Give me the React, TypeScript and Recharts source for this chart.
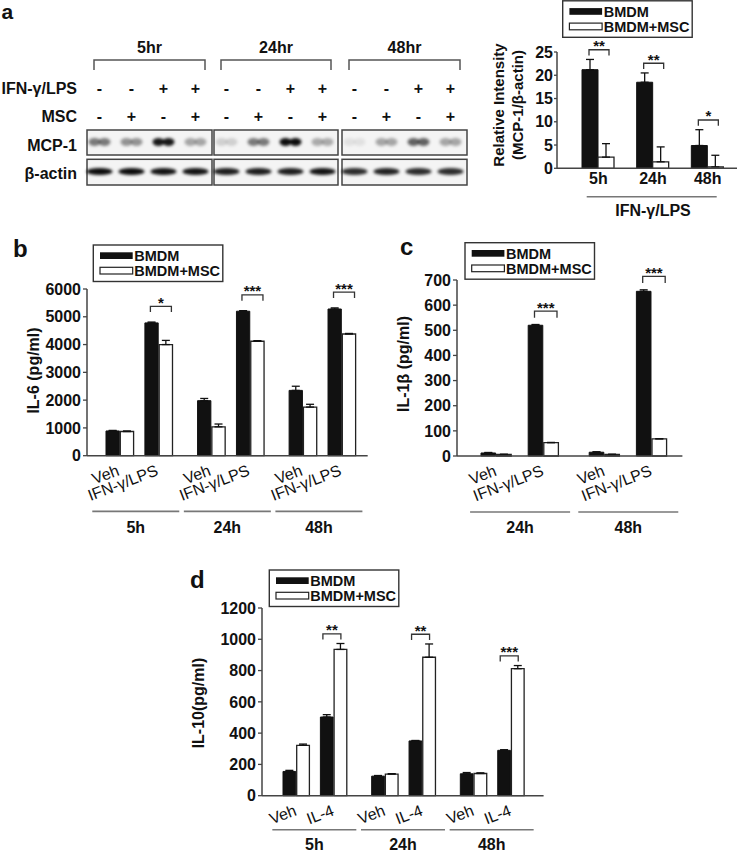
import React from "react";
import { BarChart, Bar, XAxis, YAxis, ErrorBar, LabelList } from "recharts";

const FONT = "'Liberation Sans', Arial, Helvetica, sans-serif";
const seriesNames = ["BMDM", "BMDM+MSC"];

// panel a - blot lanes
const blotTimes = ["5hr", "24hr", "48hr"];
const ifnSigns = ["-", "-", "+", "+"];
const mscSigns = ["-", "+", "-", "+"];
const mcpBand = [
  [0.5, 0.4, 0.9, 0.32],
  [0.15, 0.5, 0.95, 0.3],
  [0.08, 0.32, 0.6, 0.32],
];
const actinBand = [
  [0.95, 0.95, 0.92, 0.92],
  [0.88, 0.88, 0.88, 0.92],
  [0.82, 0.86, 0.82, 0.82],
];

// panel a - densitometry
const mcpTimes = ["5h", "24h", "48h"];
const mcpBMDM = [21.2, 18.5, 4.9];
const mcpBMDMErr = [2.2, 2.0, 3.4];
const mcpMSC = [2.4, 1.4, 0.3];
const mcpMSCErr = [2.9, 3.2, 2.5];
const mcpSig = ["**", "**", "*"];
const mcpTicks = [0, 5, 10, 15, 20, 25];

// panel b - IL-6
const il6Times = ["5h", "24h", "48h"];
const il6VehBMDM = [890, 1980, 2350];
const il6VehBMDMErr = [20, 80, 150];
const il6VehMSC = [870, 1040, 1750];
const il6VehMSCErr = [20, 100, 100];
const il6IfnBMDM = [4780, 5200, 5280];
const il6IfnBMDMErr = [30, 20, 40];
const il6IfnMSC = [4000, 4120, 4380];
const il6IfnMSCErr = [150, 20, 20];
const il6Sig = ["*", "***", "***"];
const il6Ticks = [0, 1000, 2000, 3000, 4000, 5000, 6000];

// panel c - IL-1b
const il1Times = ["24h", "48h"];
const il1VehBMDM = [12, 15];
const il1VehBMDMErr = [2, 2];
const il1VehMSC = [6, 6];
const il1VehMSCErr = [1, 1];
const il1IfnBMDM = [520, 655];
const il1IfnBMDMErr = [3, 6];
const il1IfnMSC = [53, 68];
const il1IfnMSCErr = [1, 1];
const il1Sig = ["***", "***"];
const il1Ticks = [0, 100, 200, 300, 400, 500, 600, 700];

// panel d - IL-10
const il10Times = ["5h", "24h", "48h"];
const il10VehBMDM = [155, 125, 140];
const il10VehBMDMErr = [7, 4, 8];
const il10VehMSC = [322, 138, 142];
const il10VehMSCErr = [8, 3, 4];
const il10Il4BMDM = [503, 350, 290];
const il10Il4BMDMErr = [15, 3, 4];
const il10Il4MSC = [935, 885, 812];
const il10Il4MSCErr = [38, 85, 20];
const il10Sig = ["**", "**", "***"];
const il10Ticks = [0, 200, 400, 600, 800, 1000, 1200];

const GAP = 1;

const makeBracket = (o: any) => (props: any) => {
  const vb = props.viewBox && props.viewBox.width !== undefined ? props.viewBox : props;
  const { x, y, height } = vb;
  const i = props.index ?? o.black.indexOf(props.value);
  const v = o.black[i];
  if (!v || !height) return null;
  const k = height / v;
  const base = y + height;
  const top = Math.max(o.black[i] + o.blackErr[i], o.white[i] + o.whiteErr[i]);
  const yb = base - top * k - o.gap;
  const yt = yb - o.h;
  const x1 = x + o.dx;
  const x2 = x1 + o.w;
  return (
    <g>
      <path d={`M${x1},${yb} V${yt} H${x2} V${yb}`} fill="none" stroke="#333" strokeWidth={1.3} />
      <text x={(x1 + x2) / 2} y={yt + 1.5} textAnchor="middle" fontSize={15} fontWeight={700} fontFamily={FONT} fill="#111">
        {o.sig[i]}
      </text>
    </g>
  );
};

const GroupTick = (props: any) => {
  const { x, y, payload, cfg } = props;
  const G = 4 * cfg.barW + cfg.spacer + 4 * GAP;
  const off = G / 2 - (2 * cfg.barW + GAP) / 2;
  const vx = x - off + 1;
  const tx = x + off + 1;
  const ly = y + 19;
  const ux = x + cfg.uOff;
  return (
    <g fontFamily={FONT} fill="#111">
      <g transform={`translate(${vx},${ly}) rotate(-21)`}>
        <text x={0} y={0} textAnchor="end" fontSize={16}>Veh</text>
      </g>
      <g transform={`translate(${tx},${ly}) rotate(-21)`}>
        <text x={0} y={0} textAnchor="end" fontSize={16}>{cfg.trtLabel}</text>
      </g>
      <line x1={ux - cfg.uW / 2} x2={ux + cfg.uW / 2} y1={y + cfg.uY} y2={y + cfg.uY} stroke="#777" strokeWidth={1.6} />
      <text x={ux} y={y + cfg.lY} textAnchor="middle" fontSize={16} fontWeight={700}>{payload.value}</text>
    </g>
  );
};

const place = (L: number, R: number, T: number, B: number, xh: number, mt = 20) => ({
  left: L - 60,
  top: T - mt,
  width: R - (L - 60) + 2,
  height: mt + (B - T) + xh,
  margin: { top: mt, right: 2, left: 0, bottom: 0 },
});

const yTick = { fill: "#111", fontSize: 16, fontWeight: 700, fontFamily: FONT };
const axisLine = { stroke: "#444", strokeWidth: 1.5 };

const GroupPanel = ({ cfg }: { cfg: any }) => {
  const p = place(cfg.L, cfg.R, cfg.T, cfg.B, cfg.xh);
  const rows = cfg.times.map((t: string, i: number) => ({
    t,
    vb: cfg.vehB[i], vbe: [0, cfg.vehBErr[i]],
    vw: cfg.vehW[i], vwe: [0, cfg.vehWErr[i]],
    sp: 0,
    ib: cfg.trtB[i], ibe: [0, cfg.trtBErr[i]],
    iw: cfg.trtW[i], iwe: [0, cfg.trtWErr[i]],
  }));
  const bracket = makeBracket({
    black: cfg.trtB, blackErr: cfg.trtBErr, white: cfg.trtW, whiteErr: cfg.trtWErr,
    sig: cfg.sig, gap: cfg.bGap, h: cfg.bH, dx: cfg.bDx, w: cfg.bW,
  });
  const eb = { width: 4, stroke: "#111", strokeWidth: 1.3, direction: "y" as const, isAnimationActive: false };
  return (
    <div style={{ position: "absolute", left: p.left, top: p.top }}>
      <BarChart width={p.width} height={p.height} data={rows} margin={p.margin} barGap={GAP}>
        <XAxis dataKey="t" padding={{ left: cfg.padL, right: cfg.padR }} axisLine={axisLine} tickLine={false}
          tickSize={0} tickMargin={0} height={cfg.xh} interval={0} tick={(tp: any) => <GroupTick {...tp} cfg={cfg} />} />
        <YAxis type="number" domain={[0, cfg.max]} ticks={cfg.ticks} interval={0} width={60} axisLine={axisLine}
          tickLine={{ stroke: "#444", strokeWidth: 1.3 }} tickSize={4} tickMargin={2} tick={yTick} />
        <Bar dataKey="vb" barSize={cfg.barW} fill="#111" stroke="#111" isAnimationActive={false}>
          <ErrorBar dataKey="vbe" {...eb} />
        </Bar>
        <Bar dataKey="vw" barSize={cfg.barW} fill="#fff" stroke="#222" strokeWidth={1.3} isAnimationActive={false}>
          <ErrorBar dataKey="vwe" {...eb} />
        </Bar>
        <Bar dataKey="sp" barSize={cfg.spacer} fill="none" isAnimationActive={false} />
        <Bar dataKey="ib" barSize={cfg.barW} fill="#111" stroke="#111" isAnimationActive={false}>
          <ErrorBar dataKey="ibe" {...eb} />
          <LabelList dataKey="ib" content={bracket} />
        </Bar>
        <Bar dataKey="iw" barSize={cfg.barW} fill="#fff" stroke="#222" strokeWidth={1.3} isAnimationActive={false}>
          <ErrorBar dataKey="iwe" {...eb} />
        </Bar>
      </BarChart>
    </div>
  );
};

const PanelA = () => {
  const p = place(556.7, 736.7, 51.7, 168, 50);
  const rows = mcpTimes.map((t, i) => ({
    t, b: mcpBMDM[i], be: [0, mcpBMDMErr[i]], w: mcpMSC[i], we: [0, mcpMSCErr[i]],
  }));
  const bracket = makeBracket({
    black: mcpBMDM, blackErr: mcpBMDMErr, white: mcpMSC, whiteErr: mcpMSCErr,
    sig: mcpSig, gap: 4, h: 5.7, dx: 7, w: 20,
  });
  const eb = { width: 4, stroke: "#111", strokeWidth: 1.3, direction: "y" as const, isAnimationActive: false };
  return (
    <div style={{ position: "absolute", left: p.left, top: p.top }}>
      <BarChart width={p.width} height={p.height} data={rows} margin={p.margin} barGap={0}>
        <XAxis dataKey="t" padding={{ left: 14, right: 2 }} axisLine={axisLine} tickLine={false}
          tickSize={0} tickMargin={4} height={50} interval={0} tick={yTick} />
        <YAxis type="number" domain={[0, 25]} ticks={mcpTicks} interval={0} width={60} axisLine={axisLine}
          tickLine={{ stroke: "#444", strokeWidth: 1.3 }} tickSize={3} tickMargin={1} tick={yTick} />
        <Bar dataKey="b" barSize={16} fill="#111" stroke="#111" isAnimationActive={false}>
          <ErrorBar dataKey="be" {...eb} />
          <LabelList dataKey="b" content={bracket} />
        </Bar>
        <Bar dataKey="w" barSize={16} fill="#fff" stroke="#222" strokeWidth={1.3} isAnimationActive={false}>
          <ErrorBar dataKey="we" {...eb} />
        </Bar>
      </BarChart>
    </div>
  );
};

const Blot = () => {
  const boxX = [87, 214, 342];
  const boxW = [125, 124, 125];
  return (
    <svg width={470} height={190} style={{ position: "absolute", left: 0, top: 0 }} fontFamily={FONT}>
      <defs>
        <filter id="blur" x="-50%" y="-50%" width="200%" height="200%">
          <feGaussianBlur stdDeviation="1.6" />
        </filter>
      </defs>
      <g fontWeight={700} fontSize={16} fill="#111" textAnchor="end">
        <text x={77} y={93.5}>IFN-γ/LPS</text>
        <text x={77} y={122}>MSC</text>
        <text x={77} y={150.5}>MCP-1</text>
        <text x={77} y={178.5}>β-actin</text>
      </g>
      {boxX.map((bx, g) => {
        const x1 = bx + 7;
        const x2 = bx + boxW[g] - 7;
        return (
          <g key={g}>
            <text x={(x1 + x2) / 2} y={52.5} textAnchor="middle" fontWeight={700} fontSize={16} fill="#111">{blotTimes[g]}</text>
            <path d={`M${x1},70 V60 H${x2} V70`} fill="none" stroke="#555" strokeWidth={1.5} />
            <rect x={bx} y={130} width={boxW[g]} height={25} fill="#f4f4f4" stroke="#444" strokeWidth={1.5} />
            <rect x={bx} y={159.3} width={boxW[g]} height={25.7} fill="#f4f4f4" stroke="#444" strokeWidth={1.5} />
            {ifnSigns.map((s, j) => {
              const lx = bx + 12.5 + j * 32;
              return (
                <g key={j}>
                  <text x={lx} y={93.5} textAnchor="middle" fontWeight={700} fontSize={16} fill="#111">{s}</text>
                  <text x={lx} y={122} textAnchor="middle" fontWeight={700} fontSize={16} fill="#111">{mscSigns[j]}</text>
                  <g filter="url(#blur)">
                    <ellipse cx={lx - 5} cy={142} rx={6} ry={4} fill="#000" opacity={mcpBand[g][j]} />
                    <ellipse cx={lx + 5} cy={142} rx={6} ry={4} fill="#000" opacity={mcpBand[g][j]} />
                    <ellipse cx={lx} cy={171.5} rx={13} ry={3.6} fill="#000" opacity={actinBand[g][j]} />
                  </g>
                </g>
              );
            })}
          </g>
        );
      })}
    </svg>
  );
};

const LegendBox = ({ x, y }: { x: number; y: number }) => (
  <g fontFamily={FONT} fontWeight={700} fontSize={14.5} fill="#111">
    <rect x={x} y={y} width={129.5} height={36.5} fill="#fff" stroke="#333" strokeWidth={1.4} />
    <rect x={x + 6.7} y={y + 7.3} width={32.7} height={6.7} fill="#111" />
    <text x={x + 41} y={y + 16}>{seriesNames[0]}</text>
    <rect x={x + 6.7} y={y + 22.3} width={32.7} height={6.7} fill="#fff" stroke="#222" strokeWidth={1.2} />
    <text x={x + 41} y={y + 31}>{seriesNames[1]}</text>
  </g>
);

const Overlay = () => (
  <svg width={739} height={854} style={{ position: "absolute", left: 0, top: 0, pointerEvents: "none" }} fontFamily={FONT}>
    <g fontWeight={700} fill="#111">
      <text x={1.5} y={19} fontSize={21}>a</text>
      <text x={13} y={256.7} fontSize={24}>b</text>
      <text x={400} y={255} fontSize={24}>c</text>
      <text x={190} y={588.3} fontSize={24}>d</text>
    </g>
    <LegendBox x={562.7} y={0.8} />
    <LegendBox x={93.3} y={245} />
    <LegendBox x={465} y={242.7} />
    <LegendBox x={269.3} y={570} />
    <g fontWeight={700} fill="#111" textAnchor="middle" dominantBaseline="central">
      <text x={498} y={105} fontSize={15} transform="rotate(-90 498 105)">Relative Intensity</text>
      <text x={517} y={105} fontSize={15} transform="rotate(-90 517 105)">(MCP-1/β-actin)</text>
      <text x={33} y={370.5} fontSize={16} transform="rotate(-90 33 370.5)">IL-6 (pg/ml)</text>
      <text x={403} y={364} fontSize={16} transform="rotate(-90 403 364)">IL-1β (pg/ml)</text>
      <text x={198} y={703} fontSize={16} transform="rotate(-90 198 703)">IL-10(pg/ml)</text>
    </g>
    <line x1={586.7} x2={716.7} y1={196.7} y2={196.7} stroke="#777" strokeWidth={1.6} />
    <text x={653} y={215.5} textAnchor="middle" fontWeight={700} fontSize={16} fill="#111">IFN-γ/LPS</text>
  </svg>
);

const cfgB = {
  L: 87.3, R: 368, T: 289.3, B: 456, xh: 85,
  times: il6Times, vehB: il6VehBMDM, vehBErr: il6VehBMDMErr, vehW: il6VehMSC, vehWErr: il6VehMSCErr,
  trtB: il6IfnBMDM, trtBErr: il6IfnBMDMErr, trtW: il6IfnMSC, trtWErr: il6IfnMSCErr, sig: il6Sig,
  max: 6000, ticks: il6Ticks, barW: 13.3, spacer: 9.3, padL: 6, padR: 0, trtLabel: "IFN-γ/LPS",
  uOff: -3, uW: 87, uY: 55.7, lY: 77, bGap: 10, bH: 5.7, bDx: 5.5, bW: 21,
};

const cfgC = {
  L: 457.3, R: 682.7, T: 280, B: 456, xh: 85,
  times: il1Times, vehB: il1VehBMDM, vehBErr: il1VehBMDMErr, vehW: il1VehMSC, vehWErr: il1VehMSCErr,
  trtB: il1IfnBMDM, trtBErr: il1IfnBMDMErr, trtW: il1IfnMSC, trtWErr: il1IfnMSCErr, sig: il1Sig,
  max: 700, ticks: il1Ticks, barW: 14.6, spacer: 15, padL: 9, padR: 0, trtLabel: "IFN-γ/LPS",
  uOff: 0, uW: 100, uY: 56, lY: 77, bGap: 6.7, bH: 6.7, bDx: 6.3, bW: 22.5,
};

const cfgD = {
  L: 261.7, R: 543.3, T: 608.3, B: 796, xh: 58,
  times: il10Times, vehB: il10VehBMDM, vehBErr: il10VehBMDMErr, vehW: il10VehMSC, vehWErr: il10VehMSCErr,
  trtB: il10Il4BMDM, trtBErr: il10Il4BMDMErr, trtW: il10Il4MSC, trtWErr: il10Il4MSCErr, sig: il10Sig,
  max: 1200, ticks: il10Ticks, barW: 12.7, spacer: 9, padL: 9, padR: 6.6, trtLabel: "IL-4",
  uOff: -1, uW: 84, uY: 34, lY: 54, bGap: 4, bH: 5.7, bDx: 2.5, bW: 18,
};

export default function App() {
  return (
    <div style={{ position: "absolute", left: 0, top: 0, width: 739, height: 854, background: "#fff", overflow: "hidden" }}>
      <Blot />
      <PanelA />
      <GroupPanel cfg={cfgB} />
      <GroupPanel cfg={cfgC} />
      <GroupPanel cfg={cfgD} />
      <Overlay />
    </div>
  );
}
